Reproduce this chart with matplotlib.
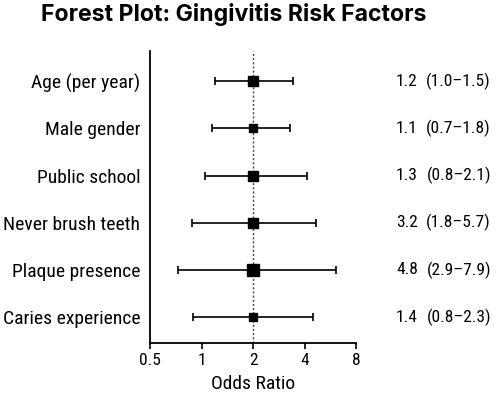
import numpy as np
import matplotlib.pyplot as plt
from matplotlib import transforms

plt.rcParams['font.family'] = ['Roboto Condensed', 'DejaVu Sans']

# data
factors = ["Age (per year)", "Male gender", "Public school",
           "Never brush teeth", "Plaque presence", "Caries experience"]
or_text = ["1.2", "1.1", "1.3", "3.2", "4.8", "1.4"]
ci_text = ["(1.0\u20131.5)", "(0.7\u20131.8)", "(0.8\u20132.1)",
           "(1.8\u20135.7)", "(2.9\u20137.9)", "(0.8\u20132.3)"]
# where the marks sit on the drawn axis
point = [2.0, 2.0, 2.0, 2.0, 2.0, 2.0]
lower = [1.20, 1.15, 1.05, 0.88, 0.73, 0.89]
upper = [3.41, 3.29, 4.12, 4.65, 6.09, 4.50]
ref_line = 2.0
xticks = [0.5, 1, 2, 4, 8]

# square size per row (points)
box_size = [6.7, 5.3, 6.7, 7.4, 8.6, 6.3]

fig = plt.figure(figsize=(4.97, 3.97), dpi=100)
ax = fig.add_axes([150 / 497, 1 - 343 / 397, 206 / 497, 292 / 397])

y = np.arange(len(factors))
for i in range(len(factors)):
    ax.errorbar(point[i], y[i],
                xerr=[[point[i] - lower[i]], [upper[i] - point[i]]],
                fmt='none', ecolor='black', elinewidth=1.2, capsize=3, capthick=1.2)
    ax.plot(point[i], y[i], marker='s', color='black', markersize=box_size[i],
            linestyle='none', zorder=3)

ax.axvline(ref_line, color='#444444', linestyle=(0, (1.5, 1.5)), linewidth=1, zorder=1)

ax.set_xscale('log')
ax.set_xlim(0.5, 8)
ax.set_xticks(xticks)
ax.set_xticklabels([str(t) for t in xticks], fontsize=12.5)
ax.minorticks_off()
ax.set_ylim(5.55, -0.64)
ax.set_yticks(y)
ax.set_yticklabels(factors, fontsize=14)
ax.tick_params(axis='y', length=0, pad=7)
ax.tick_params(axis='x', length=4, width=1.2, pad=3)
ax.spines['top'].set_visible(False)
ax.spines['right'].set_visible(False)
ax.spines['left'].set_linewidth(1.3)
ax.spines['bottom'].set_linewidth(1.3)
ax.set_xlabel("Odds Ratio", fontsize=14, labelpad=5)

# OR and CI column on the right
trans = transforms.blended_transform_factory(fig.transFigure, ax.transData)
for i in range(len(factors)):
    ax.text(396 / 497, y[i], or_text[i], transform=trans, ha='left', va='center',
            fontsize=12.5)
    ax.text(491 / 497, y[i], ci_text[i], transform=trans, ha='right', va='center',
            fontsize=12.5)

fig.text(234 / 497, 1 - 15 / 397, "Forest Plot: Gingivitis Risk Factors",
         ha='center', va='center', fontsize=16.6, fontweight='bold',
         family=['Inter', 'DejaVu Sans'])

fig.savefig("out.png", dpi=100)
